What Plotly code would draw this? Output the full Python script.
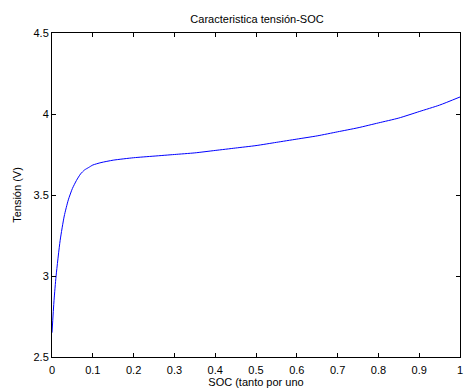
import plotly.graph_objects as go

soc = [0, 0.005, 0.01, 0.02, 0.03, 0.04, 0.05, 0.06, 0.07, 0.08, 0.09, 0.1, 0.12, 0.15,
       0.2, 0.25, 0.3, 0.35, 0.4, 0.45, 0.5, 0.55, 0.6, 0.65, 0.7, 0.75, 0.8, 0.85, 0.9, 0.95, 1.0]
tension = [2.65, 2.85, 3.0, 3.22, 3.37, 3.47, 3.54, 3.59, 3.63, 3.655, 3.67, 3.685, 3.70, 3.715,
           3.73, 3.74, 3.75, 3.76, 3.775, 3.79, 3.805, 3.825, 3.845, 3.865, 3.89, 3.915, 3.945,
           3.975, 4.015, 4.055, 4.105]

x_ticks = [0, 0.1, 0.2, 0.3, 0.4, 0.5, 0.6, 0.7, 0.8, 0.9, 1]
x_labels = ["0", "0.1", "0.2", "0.3", "0.4", "0.5", "0.6", "0.7", "0.8", "0.9", "1"]
y_ticks = [2.5, 3, 3.5, 4, 4.5]
y_labels = ["2.5", "3", "3.5", "4", "4.5"]

fig = go.Figure()
fig.add_trace(go.Scatter(x=soc, y=tension, mode="lines",
                         line=dict(color="#0000ff", width=1, shape="spline", smoothing=0.6),
                         showlegend=False))

W, H = 465, 390
font = dict(family="Liberation Sans, Arial, sans-serif", size=11, color="#000000")
fig.update_layout(
    width=W, height=H,
    margin=dict(l=52, r=2, t=33, b=33),
    paper_bgcolor="white", plot_bgcolor="white",
    font=font,
    title=dict(text="Caracteristica tensión-SOC", x=257 / W, xanchor="center",
               y=1 - 19 / H, yanchor="middle", font=dict(size=11)),
    xaxis=dict(range=[0, 1], tickvals=x_ticks, ticktext=x_labels,
               showgrid=False, zeroline=False, showline=True, linecolor="black",
               linewidth=1, mirror="ticks", ticks="inside", ticklen=4, tickcolor="black",
               tickfont=dict(size=11), ticklabelstandoff=3, ticklabeloverflow="allow",
               title=dict(text="SOC (tanto por uno", standoff=2, font=dict(size=11))),
    yaxis=dict(range=[2.5, 4.5], tickvals=y_ticks, ticktext=y_labels,
               showgrid=False, zeroline=False, showline=True, linecolor="black",
               linewidth=1, mirror="ticks", ticks="inside", ticklen=4, tickcolor="black",
               tickfont=dict(size=11), ticklabeloverflow="allow",
               title=dict(text="Tensión (V)", standoff=9, font=dict(size=11))),
)

fig.write_html("out.html", config={"displayModeBar": False},
               post_script="document.body.style.margin='0';document.body.style.overflow='hidden';")
